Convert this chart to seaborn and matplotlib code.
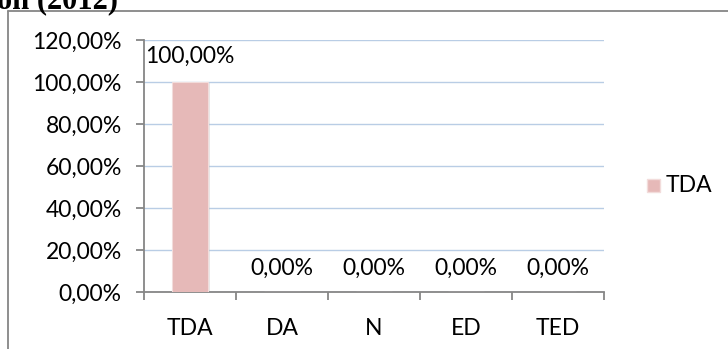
import matplotlib
matplotlib.use("Agg")
import matplotlib.pyplot as plt
import seaborn as sns
import pandas as pd
from matplotlib.patches import Rectangle

categories = ["TDA", "DA", "N", "ED", "TED"]
values = [100.0, 0.0, 0.0, 0.0, 0.0]
value_labels = ["100,00%", "0,00%", "0,00%", "0,00%", "0,00%"]
yticks = [0, 20, 40, 60, 80, 100, 120]
ytick_labels = ["0,00%", "20,00%", "40,00%", "60,00%", "80,00%", "100,00%", "120,00%"]
series_name = "TDA"

sns.set_theme(style="white")
plt.rcParams['font.family'] = ['Lato', 'DejaVu Sans']

W, H = 728, 349
FS = 16.5
fig = plt.figure(figsize=(W / 100, H / 100), dpi=100)
ax = fig.add_axes([144 / W, 1 - 292 / H, (604 - 144) / W, (292 - 40) / H])

df = pd.DataFrame({"cat": categories, "val": values})
bar_color = "#e6b9b8"
sns.barplot(data=df, x="cat", y="val", ax=ax, color=bar_color, width=0.39,
            saturation=1, edgecolor="#f2dcdb", linewidth=0.8, zorder=3)

# subtle shadow on bars
for p in ax.patches:
    if p.get_height() > 0:
        sh = Rectangle((p.get_x() + 0.02, 0), p.get_width(), p.get_height() - 0.5,
                       facecolor="#bfbfbf", alpha=0.35, edgecolor="none", zorder=2)
        ax.add_patch(sh)

ax.set_xlim(-0.5, 4.5)
ax.set_ylim(0, 120)
ax.set_yticks(yticks)
ax.set_yticklabels(ytick_labels)
ax.set_xlabel("")
ax.set_ylabel("")

ax.yaxis.grid(True, color="#b9cde5", linewidth=1.0, zorder=0)
ax.xaxis.grid(False)
for s in ["top", "right"]:
    ax.spines[s].set_visible(False)
for s in ["left", "bottom"]:
    ax.spines[s].set_color("#868686")
    ax.spines[s].set_linewidth(1.3)

ax.tick_params(axis="y", which="both", left=True, length=6, width=1.3, color="#868686",
               labelsize=FS, pad=10, labelcolor="black")
ax.tick_params(axis="x", which="major", bottom=False, labelsize=FS, pad=13, labelcolor="black")
ax.set_xticks(range(len(categories)))
ax.set_xticklabels(categories)
ax.set_xticks([i - 0.5 for i in range(len(categories) + 1)], minor=True)
ax.tick_params(axis="x", which="minor", bottom=True, length=6, width=1.3, color="#868686")

for i, (v, lab) in enumerate(zip(values, value_labels)):
    y = 112.4 if v > 0 else 11.4
    ax.text(i, y, lab, ha="center", va="center", fontsize=FS, color="black", zorder=5)

# legend
fig.patches.append(Rectangle((647 / W, 1 - 192 / H), 13 / W, 13 / H, transform=fig.transFigure,
                             facecolor=bar_color, edgecolor="#f2dcdb", figure=fig))
fig.text(666 / W, 1 - 185 / H, series_name, ha="left", va="center", fontsize=FS, color="black")

# outer chart border (left and top visible)
fig.add_artist(plt.Line2D([8 / W, 8 / W], [0, 1 - 11 / H], transform=fig.transFigure,
                          color="#868686", linewidth=1.3))
fig.add_artist(plt.Line2D([8 / W, 1], [1 - 11 / H, 1 - 11 / H], transform=fig.transFigure,
                          color="#868686", linewidth=1.3))

# clipped title from page above
fig.text(-3 / W, 1 - 8 / H, "ón (2012)", ha="left", va="baseline", fontsize=22,
         fontweight="bold", family=["Liberation Serif", "DejaVu Serif"], color="black")

fig.savefig("out.png", dpi=100)
